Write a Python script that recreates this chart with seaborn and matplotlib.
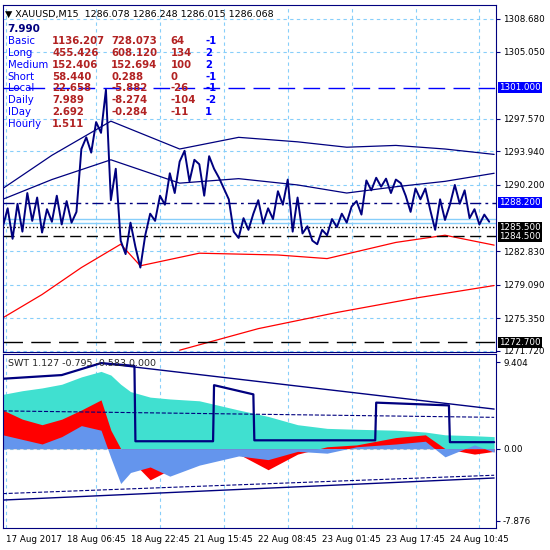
import numpy as np
import pandas as pd
import seaborn as sns
import matplotlib.pyplot as plt

sns.set_style('white')
plt.rcParams['font.family'] = ['DejaVu Sans']

# price (close) every 5 bars
price_x = list(range(0, 500, 5))
price = [1285.5, 1287.6, 1284.2, 1288.1, 1285.0, 1289.3, 1286.2, 1288.8, 1284.9, 1287.5,
         1286.1, 1289.0, 1285.8, 1288.4, 1286.0, 1287.2, 1294.2, 1295.5, 1293.8, 1297.2,
         1296.0, 1300.8, 1288.5, 1292.0, 1284.0, 1282.5, 1286.0, 1283.3, 1281.0, 1284.6,
         1287.0, 1286.2, 1289.0, 1288.0, 1291.5, 1289.3, 1292.8, 1294.0, 1290.6, 1293.0,
         1292.5, 1289.0, 1293.4, 1292.0, 1291.0, 1289.8, 1288.6, 1285.0, 1284.3, 1286.5,
         1285.2, 1287.0, 1288.5, 1285.9, 1287.6, 1286.4, 1289.5, 1288.0, 1290.8, 1285.0,
         1288.8, 1284.8, 1285.6, 1284.0, 1283.6, 1285.2, 1284.6, 1286.4, 1285.5, 1287.0,
         1286.0, 1287.8, 1288.4, 1286.9, 1290.7, 1289.6, 1291.0, 1290.0, 1290.9, 1289.3,
         1290.8, 1290.4, 1289.0, 1287.2, 1289.8, 1288.6, 1289.8, 1287.4, 1285.2, 1288.6,
         1286.3, 1288.0, 1290.2, 1288.1, 1289.6, 1286.5, 1287.5, 1285.8, 1286.9, 1286.1]

band_x = [0, 50, 110, 180, 240, 300, 350, 400, 450, 500]
outer_band = [1289.8, 1293.5, 1297.3, 1294.2, 1295.5, 1295.0, 1294.4, 1294.6, 1294.2, 1293.6]
inner_band = [1288.6, 1290.8, 1293.0, 1290.4, 1290.9, 1290.2, 1289.3, 1290.0, 1290.6, 1291.5]
red_x = [0, 40, 80, 120, 140, 200, 280, 330, 400, 450, 500]
red_mid = [1275.4, 1278.0, 1281.0, 1283.6, 1281.2, 1282.6, 1282.4, 1282.0, 1283.8, 1284.6, 1283.5]
red_low_x = [180, 260, 340, 420, 500]
red_low = [1271.8, 1274.2, 1276.0, 1277.6, 1279.0]

levels = [1301.0, 1288.2, 1285.5, 1284.5, 1272.7]
price_ticks = [1308.68, 1305.05, 1297.57, 1293.94, 1290.2, 1282.83, 1279.09, 1275.35, 1271.72]

# oscillator panel
osc_x = [0, 20, 40, 60, 80, 100, 110, 120, 130, 150, 170, 200, 240, 270, 300, 330, 360, 400, 430, 450, 480, 500]
trend = [5.9, 6.3, 6.6, 7.0, 7.8, 8.4, 8.0, 7.0, 6.2, 5.6, 5.4, 5.2, 4.2, 3.5, 2.6, 2.2, 2.1, 2.0, 1.8, 1.5, 1.4, 1.3]
signal = [4.2, 3.2, 2.6, 3.2, 4.2, 5.3, 2.0, 0.0, -1.2, -3.4, -2.3, -1.2, -0.6, -2.3, -0.6, 0.2, 0.4, 1.2, 1.5, 0.0, -0.6, -0.3]
noise = [1.5, 1.0, 0.5, 1.3, 2.5, 2.0, -1.0, -3.8, -2.6, -2.0, -3.0, -1.8, -0.8, -1.2, -0.3, -0.5, 0.2, 0.5, 0.8, -0.9, 0.4, -0.4]
step_x = [0, 60, 100, 134, 135, 214, 215, 255, 256, 379, 380, 454, 455, 500]
step_y = [7.6, 8.0, 9.3, 9.0, 0.8, 0.8, 6.9, 5.9, 0.9, 0.9, 5.0, 4.7, 0.7, 0.7]
upper_line_x = [100, 500]
upper_line = [9.3, 4.3]
dash_hi = [4.1, 3.4]
dash_lo = [-4.9, -2.9]
low_line = [-5.6, -3.2]
osc_ticks = [9.404, 0.0, -7.876]

date_pos = [3, 95, 160, 225, 290, 355, 420, 485]
date_labels = ['17 Aug 2017', '18 Aug 06:45', '18 Aug 22:45', '21 Aug 15:45',
               '22 Aug 08:45', '23 Aug 01:45', '23 Aug 17:45', '24 Aug 10:45']

navy = '#00007f'
grid = '#87cefa'
fs = 6.3

fig = plt.figure(figsize=(5.5, 5.5), dpi=100)
ax = fig.add_axes([0.005, 0.36, 0.897, 0.631])
ax2 = fig.add_axes([0.005, 0.04, 0.897, 0.316])

for a in (ax, ax2):
    for s in a.spines.values():
        s.set_color(navy)
    a.set_xlim(0, 502)
    a.set_xticks(date_pos)
    a.yaxis.tick_right()
    a.tick_params(labelsize=fs, colors='black', length=3, pad=2, color=navy)
    for xp in date_pos:
        a.axvline(xp, color=grid, ls=(0, (3, 3)), lw=0.8, zorder=0)

ax.set_ylim(1271.6, 1310.24)
ax.set_yticks(price_ticks)
ax.set_yticklabels([f'{v:.3f}' for v in price_ticks])
ax.set_xticklabels([])
for v in price_ticks:
    ax.axhline(v, color=grid, ls=(0, (3, 3)), lw=0.8, zorder=0)

sns.lineplot(x=band_x, y=outer_band, ax=ax, color=navy, lw=0.9)
sns.lineplot(x=band_x, y=inner_band, ax=ax, color=navy, lw=0.9)
sns.lineplot(x=red_x, y=red_mid, ax=ax, color='red', lw=0.9)
sns.lineplot(x=red_low_x, y=red_low, ax=ax, color='red', lw=0.9)
ax.axhline(1286.4, color=grid, lw=1)
ax.axhline(1286.0, color=grid, lw=1)
ax.axhline(levels[0], color='#0000ff', ls=(0, (12, 6)), lw=1)
ax.axhline(levels[1], color=navy, ls=(0, (8, 3, 2, 3)), lw=1)
ax.axhline(levels[2], color='black', ls=':', lw=1)
ax.axhline(levels[3], color='black', ls=(0, (8, 4)), lw=1)
ax.axhline(levels[4], color='black', ls=(0, (14, 6)), lw=1)
sns.lineplot(x=price_x, y=price, ax=ax, color=navy, lw=1.4)

boxes = [(levels[0], '#0000ff'), (levels[1], '#0000ff'), (levels[2], 'black'), (levels[3], 'black'), (levels[4], 'black')]
for v, c in boxes:
    ax.text(1.006, v, f'{v:.3f}', transform=ax.get_yaxis_transform(), va='center', ha='left',
            fontsize=fs, color='white', bbox=dict(boxstyle='square,pad=0.12', fc=c, ec='none'))

# info table
ax.text(0.005, 0.985, '\u25bc XAUUSD,M15  1286.078 1286.248 1286.015 1286.068', transform=ax.transAxes,
        fontsize=6.8, va='top', color='black')
ax.text(0.01, 0.945, '7.990', transform=ax.transAxes, fontsize=7.5, va='top', color=navy, weight='bold')
rows = [('Basic', '1136.207', '728.073', '64', '-1'), ('Long', '455.426', '608.120', '134', '2'),
        ('Medium', '152.406', '152.694', '100', '2'), ('Short', '58.440', '0.288', '0', '-1'),
        ('Local', '22.658', '-5.882', '-26', '-1'), ('Daily', '7.989', '-8.274', '-104', '-2'),
        ('IDay', '2.692', '-0.284', '-11', '1'), ('Hourly', '1.511', '', '', '')]
for i, r in enumerate(rows):
    yy = 0.91 - i * 0.034
    ax.text(0.01, yy, r[0], transform=ax.transAxes, fontsize=7.3, va='top', color='#0000ff')
    for xx, t in zip([0.10, 0.22, 0.34], r[1:4]):
        ax.text(xx, yy, t, transform=ax.transAxes, fontsize=7.3, va='top', color='#b22222', weight='bold')
    ax.text(0.41, yy, r[4], transform=ax.transAxes, fontsize=7.3, va='top', color='#0000ff', weight='bold')

# oscillator
ax2.set_ylim(-8.64, 10.27)
ax2.set_yticks(osc_ticks)
ax2.set_yticklabels(['9.404', '0.00', '-7.876'])
ax2.set_xticklabels(date_labels)
for lab in ax2.get_xticklabels():
    lab.set_ha('center')
ax2.get_xticklabels()[0].set_ha('left')
ax2.axhline(0, color=grid, ls=(0, (3, 3)), lw=0.8, zorder=0)
ax2.fill_between(osc_x, 0, trend, color='#40e0d0', lw=0)
ax2.fill_between(osc_x, 0, signal, color='red', lw=0)
ax2.fill_between(osc_x, 0, noise, color='#6495ed', lw=0)
sns.lineplot(x=step_x, y=step_y, ax=ax2, color=navy, lw=1.6)
sns.lineplot(x=upper_line_x, y=upper_line, ax=ax2, color=navy, lw=1)
sns.lineplot(x=[0, 500], y=dash_hi, ax=ax2, color=navy, lw=0.8, ls='--')
sns.lineplot(x=[0, 500], y=dash_lo, ax=ax2, color=navy, lw=0.8, ls='--')
sns.lineplot(x=[0, 500], y=low_line, ax=ax2, color=navy, lw=1)
ax2.text(0.01, 0.97, 'SWT 1.127 -0.795 -0.583 0.000', transform=ax2.transAxes, fontsize=6.8, va='top')

fig.savefig('out.png', dpi=100)
